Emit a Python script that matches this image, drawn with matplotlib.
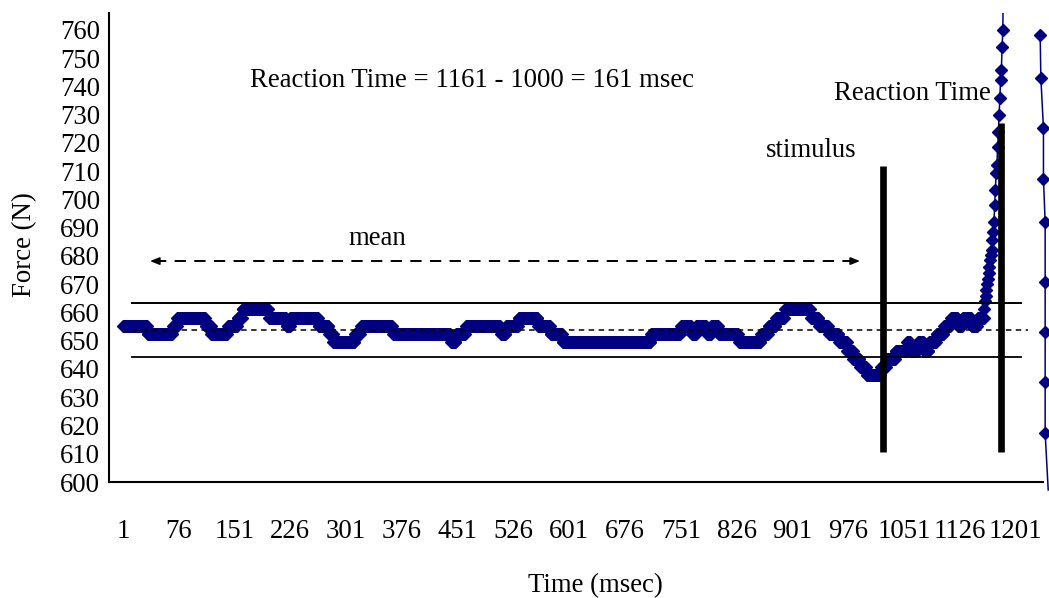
import numpy as np
import matplotlib
matplotlib.use("Agg")
import matplotlib.pyplot as plt

# ---------------- data ----------------
# baseline force as runs of constant value (value, number of samples)
run_values = [655.3, 652.3, 655.3, 658.2, 655.3, 652.3, 655.3, 658.2, 661.2, 658.2,
              655.3, 658.2, 655.3, 652.3, 649.4, 652.3, 655.3, 652.3, 649.4, 652.3,
              655.3, 652.3, 655.3, 658.2, 655.3, 652.3, 649.4, 652.3,
              655.3, 652.3, 655.3, 652.3, 655.3,
              652.3, 649.4, 652.3, 655.3, 658.2, 661.2, 658.2, 655.3, 652.3, 649.4,
              646.5, 643.6, 640.7, 637.8, 640.7, 643.6,
              646.5, 649.4, 646.5, 649.4, 646.5,
              649.4, 652.3, 655.3,
              658.2, 655.3, 658.2, 655.3, 658.2]
run_lengths = [33, 34, 6, 38, 8, 22, 13, 7, 35, 24,
               5, 38, 14, 6, 29, 8, 43, 78, 7, 13,
               47, 7, 17, 26, 17, 16, 119, 40,
               15, 6, 14, 6, 10,
               27, 30, 10, 10, 12, 35, 11, 13, 14, 11,
               8, 9, 9, 19, 8, 12,
               15, 5, 10, 8, 7,
               10, 10, 9,
               10, 6, 12, 8, 9]
# force rise after the reaction (one value per msec)
rise_values = [661.2, 664.1, 666.0, 668.0, 670.0, 672.0, 674.0, 676.0, 678.6, 680.5,
               682.1, 685.7, 688.5, 692.0, 698.0, 703.4, 709.4, 712.2, 718.6, 723.9,
               730.0, 736.0, 742.3, 745.8, 754.0, 760.0, 790.0]
# stray trace at the right edge (time, force)
tail_time = [1234.2, 1235.1, 1238.6, 1238.6, 1240.9, 1240.9, 1240.9, 1240.9, 1240.9, 1245.0]
tail_force = [758.2, 743.0, 725.3, 707.3, 692.0, 670.8, 653.1, 635.4, 617.3, 597.2]

mean_force = 653.8
upper_band = 663.2
lower_band = 644.2
stimulus_time = 1023
reaction_mark_time = 1182
x_ticks = list(range(1, 1202, 75))
y_ticks = list(range(600, 761, 10))

force = np.concatenate([np.repeat(run_values, run_lengths), rise_values])
time = np.arange(1, len(force) + 1)

# ---------------- figure ----------------
W, H = 1049, 598
fig = plt.figure(figsize=(W / 100, H / 100), dpi=100)
ax = fig.add_axes([109 / W, 1 - 482 / H, (1043 - 109) / W, (482 - 13) / H])

serif = ["Liberation Serif", "DejaVu Serif"]
FS = 19.3
navy = "#000080"

ax.plot(time, force, color=navy, lw=1.1, marker="D", ms=6.0, mec=navy, mfc=navy)
ax.plot(tail_time, tail_force, color=navy, lw=1.1, marker="D", ms=6.0,
        mec=navy, mfc=navy, markevery=list(range(len(tail_time) - 1)), clip_on=False)

ax.set_xlim(-17.8, 1238)
ax.set_ylim(600, 766)

# mean and band lines
ax.plot([13, 1209], [upper_band, upper_band], color="black", lw=1.4)
ax.plot([13, 1209], [lower_band, lower_band], color="black", lw=1.3)
ax.plot([-0.3, 1218], [mean_force, mean_force], color="black", lw=1.1, dashes=(3.6, 2.9))

# stimulus / reaction bars
ax.plot([stimulus_time, stimulus_time], [610.6, 711.9], color="black", lw=4.8,
        solid_capstyle="butt")
ax.plot([reaction_mark_time, reaction_mark_time], [610.6, 727.2], color="black", lw=4.8,
        solid_capstyle="butt")

# mean double arrow (dashed shaft, solid heads)
ya = 678.2
ax.plot([44, 984], [ya, ya], color="black", lw=1.4, dashes=(5.8, 4.3))
for tip, tail in [(37.3, 52), (992, 977)]:
    ax.annotate("", xy=(tip, ya), xytext=(tail, ya),
                arrowprops=dict(arrowstyle="-|>,head_length=0.55,head_width=0.22",
                                color="black", lw=1.2, shrinkA=0, shrinkB=0))

# axes style
for s in ["top", "right"]:
    ax.spines[s].set_visible(False)
for s in ["left", "bottom"]:
    ax.spines[s].set_linewidth(1.5)
ax.set_xticks(x_ticks)
ax.set_xticklabels([str(t) for t in x_ticks])
ax.set_yticks(y_ticks)
ax.set_yticklabels([str(t) for t in y_ticks])
ax.tick_params(axis="y", length=0, pad=6.5)
ax.tick_params(axis="x", length=0, pad=27)
for lab in ax.get_xticklabels() + ax.get_yticklabels():
    lab.set_family(serif)
    lab.set_fontsize(FS)

def fx(x):
    return x / W

def fy(y):
    return 1 - y / H

fig.text(fx(25), fy(245), "Force (N)", rotation=90, ha="center", va="center",
         family=serif, fontsize=FS)
fig.text(fx(595), fy(586), "Time (msec)", ha="center", va="center",
         family=serif, fontsize=FS)
fig.text(fx(250), fy(87), "Reaction Time = 1161 - 1000 = 161 msec", ha="left",
         va="baseline", family=serif, fontsize=FS)
fig.text(fx(377), fy(245), "mean", ha="center", va="baseline", family=serif, fontsize=FS)
fig.text(fx(811), fy(157), "stimulus", ha="center", va="baseline", family=serif, fontsize=FS)
fig.text(fx(991), fy(100), "Reaction Time", ha="right", va="baseline", family=serif,
         fontsize=FS)

fig.savefig("out.png", dpi=100)
